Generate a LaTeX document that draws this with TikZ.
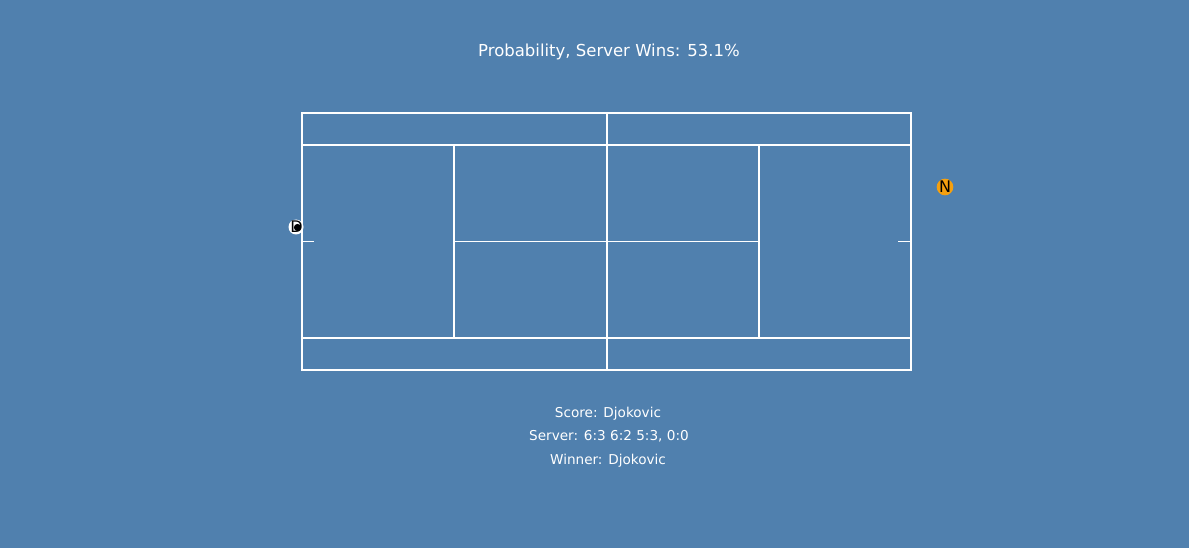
\documentclass[tikz,border=0pt]{standalone}
\usepackage{fontspec}
\setmainfont{DejaVu Sans}
\definecolor{bg}{HTML}{5080AE}
\definecolor{ballorange}{HTML}{F5A00F}
\begin{document}
\begin{tikzpicture}[x=1pt,y=-1pt,
  court/.style={white,line width=1.2pt},
  net/.style={white,line width=1.8pt},
  label/.style={text=white,inner sep=0pt,anchor=base},
  info/.style={label,font=\fontsize{13.6}{16}\selectfont},
  player/.style={circle,inner sep=0pt,minimum size=15pt}]
\fill[bg] (0,0) rectangle (1189,548);
\useasboundingbox (0,0) rectangle (1189,548);
% title
\node[label,font=\fontsize{16.5}{18}\selectfont] (title) at (609,57) {Probability, Server Wins: 53.1\%};
% court outline
\draw[court] (302,113) rectangle (911,370);
\draw[court] (302,145) -- (911,145);
\draw[court] (302,338) -- (911,338);
\draw[court] (454,145) -- (454,338);
\draw[court] (759,145) -- (759,338);
\draw[net] (454,241.5) -- (759,241.5);
\draw[net] (302,241.5) -- (314,241.5);
\draw[net] (898,241.5) -- (911,241.5);
\draw[net] (607,112) -- (607,371);
% players
\node[player,fill=white] (pd) at (296,227) {};
\fill[black] (297.5,227.5) circle (3.6);
\node[text=black,inner sep=0pt,font=\fontsize{16}{16}\selectfont] (dlabel) at (296.5,227) {D};
\node[player,fill=ballorange,text=black,font=\fontsize{16}{16}\selectfont] (pn) at (945,187) {N};
% score text
\node[info] (score) at (608,417.5) {Score: Djokovic};
\node[info] (server) at (609,440.7) {Server: 6:3 6:2 5:3, 0:0};
\node[info] (winner) at (608,464) {Winner: Djokovic};
\end{tikzpicture}
\end{document}
